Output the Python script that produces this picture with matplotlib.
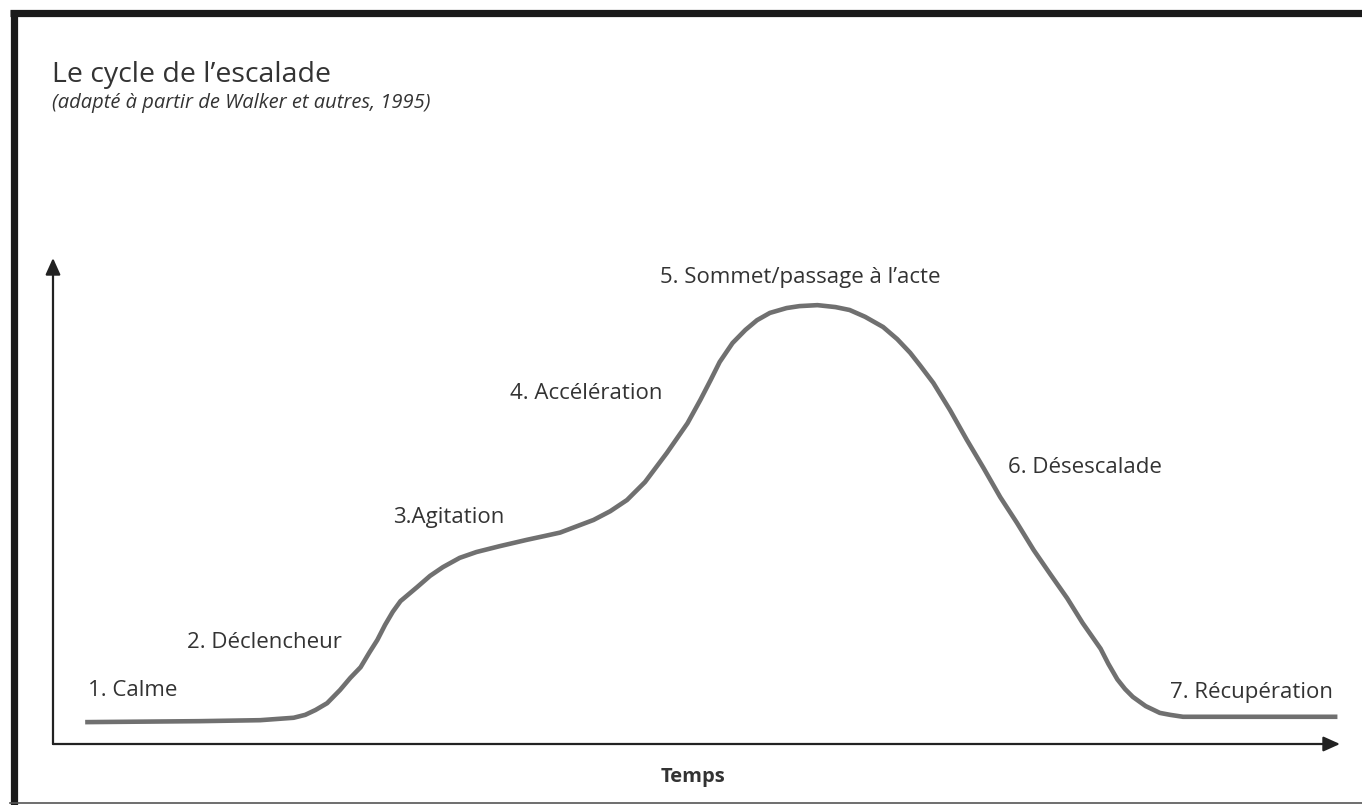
import matplotlib
matplotlib.use("Agg")
import matplotlib.pyplot as plt
from matplotlib.lines import Line2D

# Texte
title = "Le cycle de l\u2019escalade"
subtitle = "(adapté à partir de Walker et autres, 1995)"
xlabel = "Temps"

# Courbe de l'escalade (temps, intensité)
temps = [2.5, 11.4, 16.1, 18.7, 19.6, 20.4, 21.3, 22.3, 23.1, 23.9, 24.6, 25.2,
         25.8, 26.4, 27.0, 28.3, 29.3, 30.3, 31.6, 32.9, 34.7, 36.8, 38.2, 39.4,
         40.6, 42.0, 43.3, 44.6, 46.0, 47.7, 49.3, 50.3, 51.1, 51.8, 52.8, 53.8,
         54.7, 55.7, 57.0, 58.0, 59.4, 60.8, 61.9, 63.1, 64.5, 65.6, 66.6, 67.4,
         68.4, 69.7, 71.0, 72.3, 73.6, 74.9, 76.2, 77.5, 78.8, 80.0, 81.4, 82.0,
         82.7, 83.3, 83.9, 84.9, 86.0, 86.8, 87.8, 89.1, 99.8]
intensite = [4.5, 4.7, 4.9, 5.4, 6.0, 7.0, 8.4, 11.1, 13.6, 15.8, 18.9, 21.4,
             24.5, 27.2, 29.4, 32.3, 34.6, 36.4, 38.3, 39.5, 40.7, 42.0, 42.8, 43.5,
             44.7, 46.1, 47.9, 50.2, 53.9, 59.9, 66.0, 70.8, 74.9, 78.6, 82.5, 85.2,
             87.2, 88.7, 89.7, 90.1, 90.3, 89.9, 89.3, 87.9, 85.8, 83.3, 80.5, 77.8,
             74.3, 68.7, 62.6, 56.8, 50.8, 45.5, 39.9, 34.9, 30.0, 24.9, 19.6, 16.5,
             13.3, 11.3, 9.7, 7.8, 6.4, 6.0, 5.6, 5.6, 5.6]

# Étapes et position des étiquettes
etapes = ["1. Calme", "2. Déclencheur", "3.Agitation", "4. Accélération",
          "5. Sommet/passage à l\u2019acte", "6. Désescalade", "7. Récupération"]
etape_x = [2.7, 10.4, 26.4, 35.5, 47.2, 74.2, 86.8]
etape_y = [11.1, 20.8, 46.7, 72.2, 95.9, 56.8, 10.5]

plt.rcParams['font.family'] = ['Open Sans', 'DejaVu Sans']

fig = plt.figure(figsize=(13.62, 8.05), dpi=100)
ax = fig.add_axes([53/1362, 61/805, 1287/1362, 486/805])
ax.set_xlim(0, 100)
ax.set_ylim(0, 100)
ax.axis("off")

# axes avec flèches
arrow = dict(arrowstyle="-|>,head_length=1.0,head_width=0.45", color="#222222", lw=1.6,
             shrinkA=0, shrinkB=0)
ax.annotate("", xy=(1, 0), xytext=(0, 0), xycoords="axes fraction", arrowprops=arrow)
ax.annotate("", xy=(0, 1), xytext=(0, 0), xycoords="axes fraction", arrowprops=arrow)

ax.plot(temps, intensite, color="#707070", lw=3.3, solid_capstyle="butt",
        solid_joinstyle="round", clip_on=False)

for lab, x, y in zip(etapes, etape_x, etape_y):
    ax.text(x, y, lab, fontsize=16, color="#333333", ha="left", va="center")

ax.text(49.7, -6.8, xlabel, fontsize=14.5, fontweight="bold", color="#333333",
        ha="center", va="center", clip_on=False)

fig.text(52/1362, 1 - 75/805, title, fontsize=20.5, color="#333333", ha="left", va="center")
fig.text(52/1362, 1 - 103/805, subtitle, fontsize=14.5, style="italic", color="#333333",
         ha="left", va="center")

# cadre
fig.add_artist(Line2D([10/1362, 1], [1 - 13.5/805] * 2, transform=fig.transFigure,
                      color="#1a1a1a", lw=5.2, solid_capstyle="butt"))
fig.add_artist(Line2D([13.5/1362] * 2, [1 - 10/805, 0], transform=fig.transFigure,
                      color="#1a1a1a", lw=5.2, solid_capstyle="butt"))
fig.add_artist(Line2D([10/1362, 1], [1 - 803/805] * 2, transform=fig.transFigure,
                      color="#555555", lw=1.2))

fig.savefig("out.png", dpi=100, facecolor="white")
